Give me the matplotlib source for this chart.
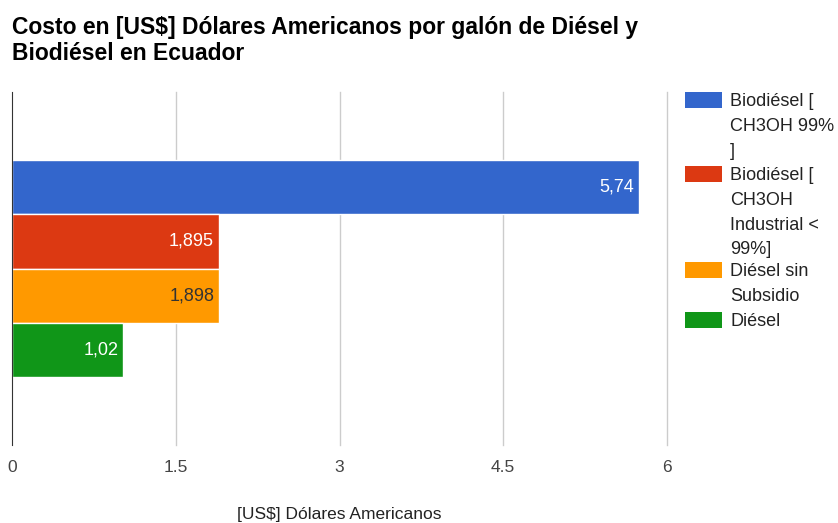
import matplotlib.pyplot as plt
from matplotlib.patches import Rectangle

plt.rcParams['font.family'] = ['Liberation Sans', 'DejaVu Sans']

series = ["Biodiésel [\nCH3OH 99%\n]", "Biodiésel [\nCH3OH\nIndustrial <\n99%]",
          "Diésel sin\nSubsidio", "Diésel"]
values = [5.74, 1.895, 1.898, 1.02]
labels = ["5,74", "1,895", "1,898", "1,02"]
colors = ["#3366cc", "#dc3912", "#ff9900", "#109618"]
label_colors = ["white", "white", "#333333", "white"]
xticks = [0, 1.5, 3, 4.5, 6]
xtick_labels = ["0", "1.5", "3", "4.5", "6"]

fig = plt.figure(figsize=(8.38, 5.23), dpi=100)
ax = fig.add_axes([12/838, 1-445/523, 655/838, 353/523])

h = 217/4/353
offsets = [1.5, 0.5, -0.5, -1.5]
for i in range(len(values)):
  y = 0.5 + offsets[i]*h
  ax.barh(y, values[i], height=h, color=colors[i], edgecolor='white', linewidth=1, zorder=3)
  ax.text(values[i]-0.045, y, labels[i], ha='right', va='center', color=label_colors[i],
          fontsize=13, zorder=4)

ax.set_xlim(0, 6)
ax.set_ylim(0, 1)
ax.set_yticks([])
ax.set_xticks(xticks)
ax.set_xticklabels(xtick_labels, color='#444444', fontsize=12.5)
ax.tick_params(axis='x', length=0, pad=11)
for x in xticks[1:]:
  ax.axvline(x, color='#cccccc', linewidth=1, zorder=1, clip_on=False)
for s in ['top', 'right', 'bottom']:
  ax.spines[s].set_visible(False)
ax.spines['left'].set_color('#333333')
ax.spines['left'].set_zorder(5)

fig.text(339/838, 1-514/523, "[US$] Dólares Americanos", fontsize=12.5, color='#222222',
         ha='center', va='center')

fig.text(12/838, 1-34/523, "Costo en [US$] Dólares Americanos por galón de Diésel y",
         fontsize=16.5, fontweight='bold', color='#000000', va='baseline', ha='left')
fig.text(12/838, 1-60/523, "Biodiésel en Ecuador",
         fontsize=16.5, fontweight='bold', color='#000000', va='baseline', ha='left')

# legend
leg_y = [92, 166, 262, 312]
for i in range(len(series)):
  fig.patches.append(Rectangle((685/838, 1-(leg_y[i]+16)/523), 37/838, 16/523,
                               transform=fig.transFigure, facecolor=colors[i], edgecolor='none'))
  fig.text(730/838, 1-(leg_y[i]+1)/523, series[i], fontsize=13, color='#222222',
           va='top', ha='left', linespacing=1.6)

fig.savefig("out.png", dpi=100)
